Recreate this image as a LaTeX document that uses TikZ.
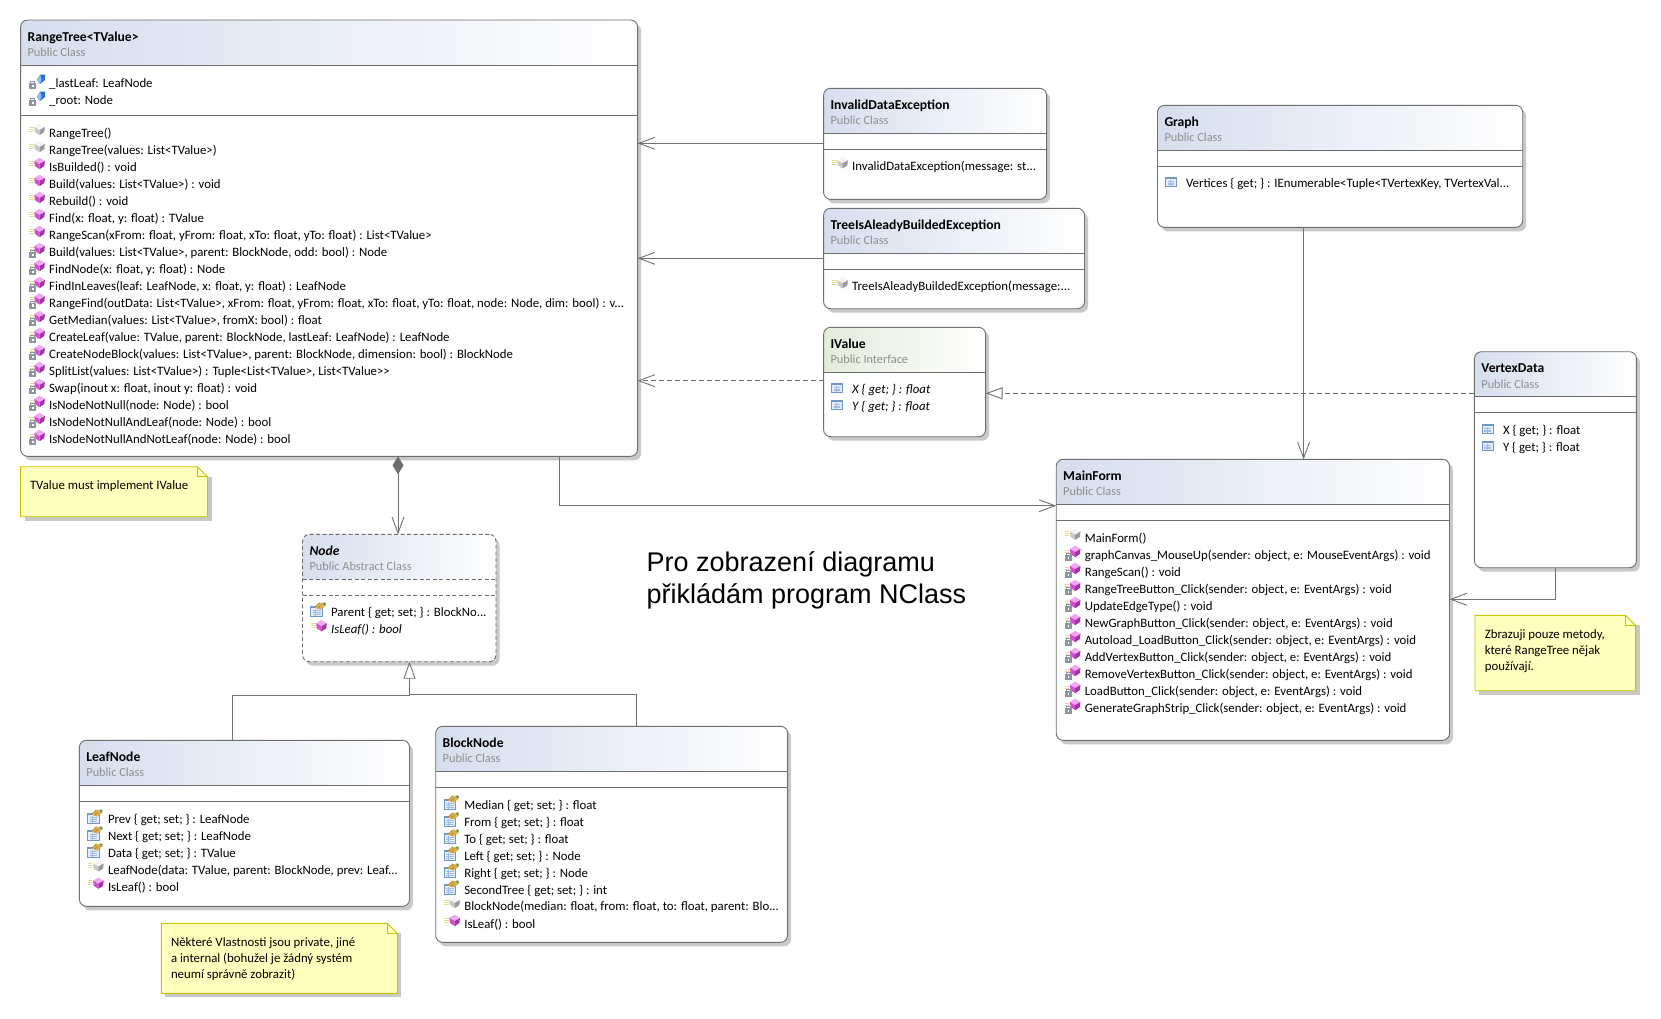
\documentclass[tikz,border=0pt]{standalone}
\usepackage{fontspec}
\setmainfont{Carlito}
\newfontfamily\bigfont{Liberation Sans}
\usetikzlibrary{arrows.meta}
\definecolor{edgegray}{HTML}{6E6E6E}
\definecolor{linegray}{HTML}{707070}
\definecolor{shadowgray}{HTML}{C9C9C9}
\definecolor{subgray}{HTML}{8F8F8F}
\definecolor{headblue}{HTML}{D6DEEE}
\definecolor{headgreen}{HTML}{E4ECDA}
\definecolor{notefill}{HTML}{FFFFBE}
\definecolor{noteedge}{HTML}{C8C400}
\definecolor{magA}{HTML}{F0A8F0}
\definecolor{magB}{HTML}{D050D0}
\definecolor{magC}{HTML}{A830A8}
\definecolor{gryA}{HTML}{F4F4F4}
\definecolor{gryB}{HTML}{C8C8C8}
\definecolor{gryC}{HTML}{9A9A9A}
\definecolor{bluA}{HTML}{8FC0F0}
\definecolor{bluB}{HTML}{2A70D0}
\definecolor{palY}{HTML}{E6DC8C}
\definecolor{lockG}{HTML}{8E96A4}
\definecolor{tabE}{HTML}{6F96C8}
\definecolor{tabF}{HTML}{E4EDF9}
\definecolor{tabG}{HTML}{A2BCE0}
\definecolor{handA}{HTML}{D9AE50}
\definecolor{handB}{HTML}{A87F2C}
\definecolor{handC}{HTML}{4E9A3A}
\tikzset{
  txt/.style={inner sep=0pt,outer sep=0pt,anchor=base west,font=\fontsize{12.8}{15}\selectfont,text=black},
  ttl/.style={txt,font=\fontsize{13.6}{15}\selectfont\bfseries},
  subt/.style={txt,font=\fontsize{12.3}{15}\selectfont,text=subgray},
  assoc/.style={draw=linegray,line width=.9pt,-{Straight Barb[length=16pt,width=12pt,line width=.9pt]}},
  depend/.style={assoc,dash pattern=on 5pt off 3pt},
  gener/.style={draw=linegray,line width=.9pt,-{Triangle[open,fill=white,length=17pt,width=12pt,line width=.9pt]}},
  realz/.style={gener,dash pattern=on 5pt off 3pt},
  compo/.style={draw=linegray,line width=.9pt,{Diamond[fill=edgegray,color=edgegray,length=18pt,width=11pt]}-{Straight Barb[length=16pt,width=12pt,line width=.9pt]}},
  plainln/.style={draw=linegray,line width=.9pt},
  boxedge/.style={draw=edgegray,line width=.9pt,rounded corners=7pt,inner sep=0pt,outer sep=0pt},
  dashedge/.style={boxedge,dash pattern=on 4pt off 2.5pt},
}
\newcount\rowcnt
\def\headcol{headblue}
\def\boxsty{boxedge}
\def\umlbox#1#2#3#4#5#6#7#8#9{%
  \fill[shadowgray,rounded corners=7pt] (#2+3.5,#3+4) rectangle (#4+3.5,#5+4);
  \fill[white,rounded corners=7pt] (#2,#3) rectangle (#4,#5);
  \path[left color=\headcol,right color=white,rounded corners=7pt] (#2,#6) -- (#2,#3) -- (#4,#3) -- (#4,#6);
  \draw[\boxsty,rounded corners=0pt] (#2,#6) -- (#4,#6);
  \draw[\boxsty,rounded corners=0pt] (#2,#7) -- (#4,#7);
  \node[\boxsty,anchor=north west,minimum width={(#4)-(#2)},minimum height={(#5)-(#3)}] (#1) at (#2,#3) {};
  \node[ttl] (#1title) at (#2+7,#3+21) {#8};
  \node[subt] (#1sub) at (#2+7,#3+36.5) {#9};
}
\def\notebox#1#2#3#4#5{%
  \fill[shadowgray] (#2+4,#3+10) rectangle (#4+4,#5+4);
  \node[inner sep=0pt,outer sep=0pt,anchor=north west,minimum width={(#4)-(#2)},minimum height={(#5)-(#3)}] (#1) at (#2,#3) {};
  \filldraw[fill=notefill,draw=noteedge,line width=.9pt] (#2,#3) -- (#4-10,#3) -- (#4,#3+10) -- (#4,#5) -- (#2,#5) -- cycle;
  \draw[noteedge,line width=.9pt] (#4-10,#3) -- (#4-10,#3+10) -- (#4,#3+10);
}
\def\rowtxt#1#2#3{\global\advance\rowcnt by 1
  \node[txt] (row\the\rowcnt) at (#1,#2+4.5) {#3};}
% icon pieces: origin at (box left, row centre)
\def\dia#1#2#3{%
  \fill[#2] (19,-9.3) -- (24.3,-6) -- (19,-3) -- (13.7,-6) -- cycle;
  \fill[#1] (13.7,-6) -- (19,-3) -- (19,2.2) -- (14.3,-1) -- cycle;
  \fill[#3] (24.3,-6) -- (19,-3) -- (19,2.2) -- (23.7,-1) -- cycle;}
\def\yellowlines{%
  \draw[palY,line width=.7pt] (8.6,-6) -- (13,-6) (8.6,-4) -- (13,-4) (8.6,-2) -- (13,-2);}
\def\padlock{%
  \draw[lockG,line width=.8pt] (10.2,0) -- (10.2,-1.2) -- (14,-1.2) -- (14,0);
  \fill[lockG] (8.6,0) rectangle (15.6,6.4);
  \fill[white] (11.3,1.8) rectangle (12.9,4.4);}
\def\icoPub{\yellowlines\dia{magB}{magA}{magC}}
\def\icoCtor{\yellowlines\dia{gryB}{gryA}{gryC}}
\def\icoPriv{\draw[palY,line width=.7pt] (9,-5) -- (13,-5) (9,-3) -- (13,-3);\padlock\dia{magB}{magA}{magC}}
\def\icoField{\padlock
  \fill[bluB] (19.5,-8.3) -- (24.7,-8.3) -- (24.4,-3) -- (19.5,1) -- (16.2,-3) -- cycle;
  \fill[bluA] (16.2,-3) -- (19.5,-8.3) -- (21,-4) -- (19.5,1) -- cycle;}
\def\icoProp{%
  \fill[tabF] (8,-6) rectangle (18.6,3);
  \fill[tabE] (8,-6) rectangle (18.6,-3.6);
  \draw[tabE,line width=.8pt] (8,-6) rectangle (18.6,3);
  \draw[tabG,line width=.6pt] (10,-1.7) -- (16.6,-1.7) (10,0) -- (16.6,0) (10,1.7) -- (16.6,1.7) (12.4,-3.5) -- (12.4,3);}
\def\icoHand{%
  \fill[tabF] (8.2,-6) rectangle (20,4);
  \fill[tabE] (8.2,-6) rectangle (20,-3.8);
  \draw[tabE,line width=.8pt] (8.2,-6) rectangle (20,4);
  \draw[tabG,line width=.6pt] (10.2,-1.5) -- (18,-1.5) (10.2,0.4) -- (18,0.4) (10.2,2.3) -- (18,2.3) (13,-3.5) -- (13,4);
  \fill[handA] (12,-4.5) -- (17,-9.3) -- (20.5,-8.5) -- (22,-5.5) -- (18,-2.5) -- (15,-3.5) -- cycle;
  \draw[handB,line width=.5pt] (12,-4.5) -- (17,-9.3) (15,-3.5) -- (18,-6.5);
  \fill[handC] (19.8,-9.5) -- (23,-9.5) -- (23,-6) -- (21.5,-6.8) -- cycle;}
\def\mrow#1#2#3#4{%
  \begin{scope}[shift={(#2,#3)}]#1\end{scope}
  \rowtxt{#2+28.6}{#3}{#4}}
\begin{document}
\begin{tikzpicture}[x=1pt,y=-1pt]
\useasboundingbox (0,0) rectangle (1661,1018);
\fill[white] (0,0) rectangle (1661,1018);

% ---------- RangeTree
\umlbox{rangetree}{20.6}{20}{637.6}{456.3}{65.3}{115.3}{RangeTree<TValue>}{Public Class}
\mrow{\icoField}{20.6}{83}{\_lastLeaf: LeafNode}
\mrow{\icoField}{20.6}{100}{\_root: Node}
\mrow{\icoCtor}{20.6}{133}{RangeTree()}
\mrow{\icoCtor}{20.6}{150}{RangeTree(values: List<TValue>)}
\mrow{\icoPub}{20.6}{167}{IsBuilded() : void}
\mrow{\icoPub}{20.6}{184}{Build(values: List<TValue>) : void}
\mrow{\icoPub}{20.6}{201}{Rebuild() : void}
\mrow{\icoPub}{20.6}{218}{Find(x: float, y: float) : TValue}
\mrow{\icoPub}{20.6}{235}{RangeScan(xFrom: float, yFrom: float, xTo: float, yTo: float) : List<TValue>}
\mrow{\icoPriv}{20.6}{252}{Build(values: List<TValue>, parent: BlockNode, odd: bool) : Node}
\mrow{\icoPriv}{20.6}{269}{FindNode(x: float, y: float) : Node}
\mrow{\icoPriv}{20.6}{286}{FindInLeaves(leaf: LeafNode, x: float, y: float) : LeafNode}
\mrow{\icoPriv}{20.6}{302.5}{RangeFind(outData: List<TValue>, xFrom: float, yFrom: float, xTo: float, yTo: float, node: Node, dim: bool) : v...}
\mrow{\icoPriv}{20.6}{320}{GetMedian(values: List<TValue>, fromX: bool) : float}
\mrow{\icoPriv}{20.6}{337}{CreateLeaf(value: TValue, parent: BlockNode, lastLeaf: LeafNode) : LeafNode}
\mrow{\icoPriv}{20.6}{354}{CreateNodeBlock(values: List<TValue>, parent: BlockNode, dimension: bool) : BlockNode}
\mrow{\icoPriv}{20.6}{371}{SplitList(values: List<TValue>) : Tuple<List<TValue>, List<TValue>{}>}
\mrow{\icoPriv}{20.6}{388}{Swap(inout x: float, inout y: float) : void}
\mrow{\icoPriv}{20.6}{405}{IsNodeNotNull(node: Node) : bool}
\mrow{\icoPriv}{20.6}{422}{IsNodeNotNullAndLeaf(node: Node) : bool}
\mrow{\icoPriv}{20.6}{439}{IsNodeNotNullAndNotLeaf(node: Node) : bool}

% ---------- InvalidDataException
\umlbox{invalid}{823.6}{88.3}{1046.6}{199.3}{133.3}{149.3}{InvalidDataException}{Public Class}
\mrow{\icoCtor}{823.6}{166.3}{InvalidDataException(message: st...}
% ---------- TreeIsAleadyBuildedException
\umlbox{treeis}{823.6}{208.3}{1084.5}{308.7}{253.3}{269.3}{TreeIsAleadyBuildedException}{Public Class}
\mrow{\icoCtor}{823.6}{286.3}{TreeIsAleadyBuildedException(message:...}
% ---------- IValue
\def\headcol{headgreen}
\umlbox{ivalue}{823.6}{327.3}{985.6}{436.7}{372.7}{372.7}{IValue}{Public Interface}
\def\headcol{headblue}
\mrow{\icoProp}{823.6}{389}{\itshape X \{ get; \} : float}
\mrow{\icoProp}{823.6}{406}{\itshape Y \{ get; \} : float}
% ---------- Graph
\umlbox{graph}{1157.5}{105.3}{1522.7}{227.3}{150.3}{166.3}{Graph}{Public Class}
\mrow{\icoProp}{1157.5}{183}{Vertices \{ get; \} : IEnumerable<Tuple<TVertexKey, TVertexVal...}
% ---------- VertexData
\umlbox{vertexdata}{1474.4}{351.7}{1636.4}{567.7}{396.3}{412.3}{VertexData}{Public Class}
\mrow{\icoProp}{1474.4}{430}{X \{ get; \} : float}
\mrow{\icoProp}{1474.4}{447}{Y \{ get; \} : float}
% ---------- MainForm
\umlbox{mainform}{1056.2}{459.3}{1449.5}{740.3}{504.3}{520.3}{MainForm}{Public Class}
\mrow{\icoCtor}{1056.2}{537.7}{MainForm()}
\mrow{\icoPriv}{1056.2}{555}{graphCanvas\_MouseUp(sender: object, e: MouseEventArgs) : void}
\mrow{\icoPriv}{1056.2}{572}{RangeScan() : void}
\mrow{\icoPriv}{1056.2}{589}{RangeTreeButton\_Click(sender: object, e: EventArgs) : void}
\mrow{\icoPriv}{1056.2}{606}{UpdateEdgeType() : void}
\mrow{\icoPriv}{1056.2}{623}{NewGraphButton\_Click(sender: object, e: EventArgs) : void}
\mrow{\icoPriv}{1056.2}{640}{Autoload\_LoadButton\_Click(sender: object, e: EventArgs) : void}
\mrow{\icoPriv}{1056.2}{657}{AddVertexButton\_Click(sender: object, e: EventArgs) : void}
\mrow{\icoPriv}{1056.2}{674}{RemoveVertexButton\_Click(sender: object, e: EventArgs) : void}
\mrow{\icoPriv}{1056.2}{691}{LoadButton\_Click(sender: object, e: EventArgs) : void}
\mrow{\icoPriv}{1056.2}{708}{GenerateGraphStrip\_Click(sender: object, e: EventArgs) : void}
% ---------- Node
\def\boxsty{dashedge}
\umlbox{nodebox}{302.5}{534.3}{496}{661.7}{579.3}{595.3}{\itshape Node}{Public Abstract Class}
\def\boxsty{boxedge}
\mrow{\icoHand}{302.5}{612}{Parent \{ get; set; \} : BlockNo...}
\mrow{\icoPub}{302.5}{629.3}{\itshape IsLeaf() : bool}
% ---------- LeafNode
\umlbox{leafnode}{79.4}{740.3}{409.5}{906.3}{785.3}{801.3}{LeafNode}{Public Class}
\mrow{\icoHand}{79.4}{819}{Prev \{ get; set; \} : LeafNode}
\mrow{\icoHand}{79.4}{836}{Next \{ get; set; \} : LeafNode}
\mrow{\icoHand}{79.4}{853}{Data \{ get; set; \} : TValue}
\mrow{\icoCtor}{79.4}{869.5}{LeafNode(data: TValue, parent: BlockNode, prev: Leaf...}
\mrow{\icoPub}{79.4}{886.7}{IsLeaf() : bool}
% ---------- BlockNode
\umlbox{blocknode}{435.7}{726.3}{787.6}{942.3}{771.3}{787.3}{BlockNode}{Public Class}
\mrow{\icoHand}{435.7}{805}{Median \{ get; set; \} : float}
\mrow{\icoHand}{435.7}{822}{From \{ get; set; \} : float}
\mrow{\icoHand}{435.7}{839}{To \{ get; set; \} : float}
\mrow{\icoHand}{435.7}{856}{Left \{ get; set; \} : Node}
\mrow{\icoHand}{435.7}{873}{Right \{ get; set; \} : Node}
\mrow{\icoHand}{435.7}{890}{SecondTree \{ get; set; \} : int}
\mrow{\icoCtor}{435.7}{906}{BlockNode(median: float, from: float, to: float, parent: Blo...}
\mrow{\icoPub}{435.7}{924}{IsLeaf() : bool}

% ---------- Notes
\notebox{noteA}{20.6}{466.7}{207.5}{516.7}
\rowtxt{30}{485}{TValue must implement IValue}
\notebox{noteB}{1475}{615.3}{1635.6}{690.7}
\rowtxt{1484.8}{634}{Zbrazuji pouze metody,}
\rowtxt{1484.8}{650}{které RangeTree nějak}
\rowtxt{1484.8}{666}{používají.}
\notebox{noteC}{161.3}{923.3}{397.4}{993.3}
\rowtxt{171}{942}{Některé Vlastnosti jsou private, jiné}
\rowtxt{171}{958}{a internal (bohužel je žádný systém}
\rowtxt{171}{974}{neumí správně zobrazit)}

% ---------- Free text
\node[anchor=base west,inner sep=0pt,font=\bigfont\fontsize{27}{30}\selectfont] (bigA) at (646.5,571.7) {Pro zobrazení diagramu};
\node[anchor=base west,inner sep=0pt,font=\bigfont\fontsize{27}{30}\selectfont] (bigB) at (646.5,603.3) {přikládám program NClass};

% ---------- Connectors
\coordinate (yA) at (0,143.3);
\coordinate (yB) at (0,258.3);
\coordinate (yC) at (0,380.7);
\coordinate (yD) at (0,393.3);
\coordinate (xE) at (398,0);
\coordinate (xF) at (559.3,0);
\coordinate (yF) at (0,505.7);
\coordinate (xG) at (1303.6,0);
\coordinate (xH) at (1555.6,0);
\coordinate (yH) at (0,599.3);
\coordinate (xI) at (409.5,0);
\coordinate (xJ) at (232.6,0);
\coordinate (xK) at (636.3,0);
\coordinate (yJ) at (0,695.3);
\coordinate (yK) at (0,694.3);
\draw[assoc] (invalid.west |- yA) -- (rangetree.east |- yA);
\draw[assoc] (treeis.west |- yB) -- (rangetree.east |- yB);
\draw[depend] (ivalue.west |- yC) -- (rangetree.east |- yC);
\draw[realz] (vertexdata.west |- yD) -- (ivalue.east |- yD);
\draw[compo] (rangetree.south -| xE) -- (nodebox.north -| xE);
\draw[assoc] (rangetree.south -| xF) -- (xF |- yF) -- (mainform.west |- yF);
\draw[assoc] (graph.south -| xG) -- (mainform.north -| xG);
\draw[assoc] (vertexdata.south -| xH) -- (xH |- yH) -- (mainform.east |- yH);
\draw[gener] (leafnode.north -| xJ) -- (xJ |- yJ) -- (xI |- yJ) -- (nodebox.south -| xI);
\draw[plainln] (blocknode.north -| xK) -- (xK |- yK) -- (xI |- yK);
\end{tikzpicture}
\end{document}
